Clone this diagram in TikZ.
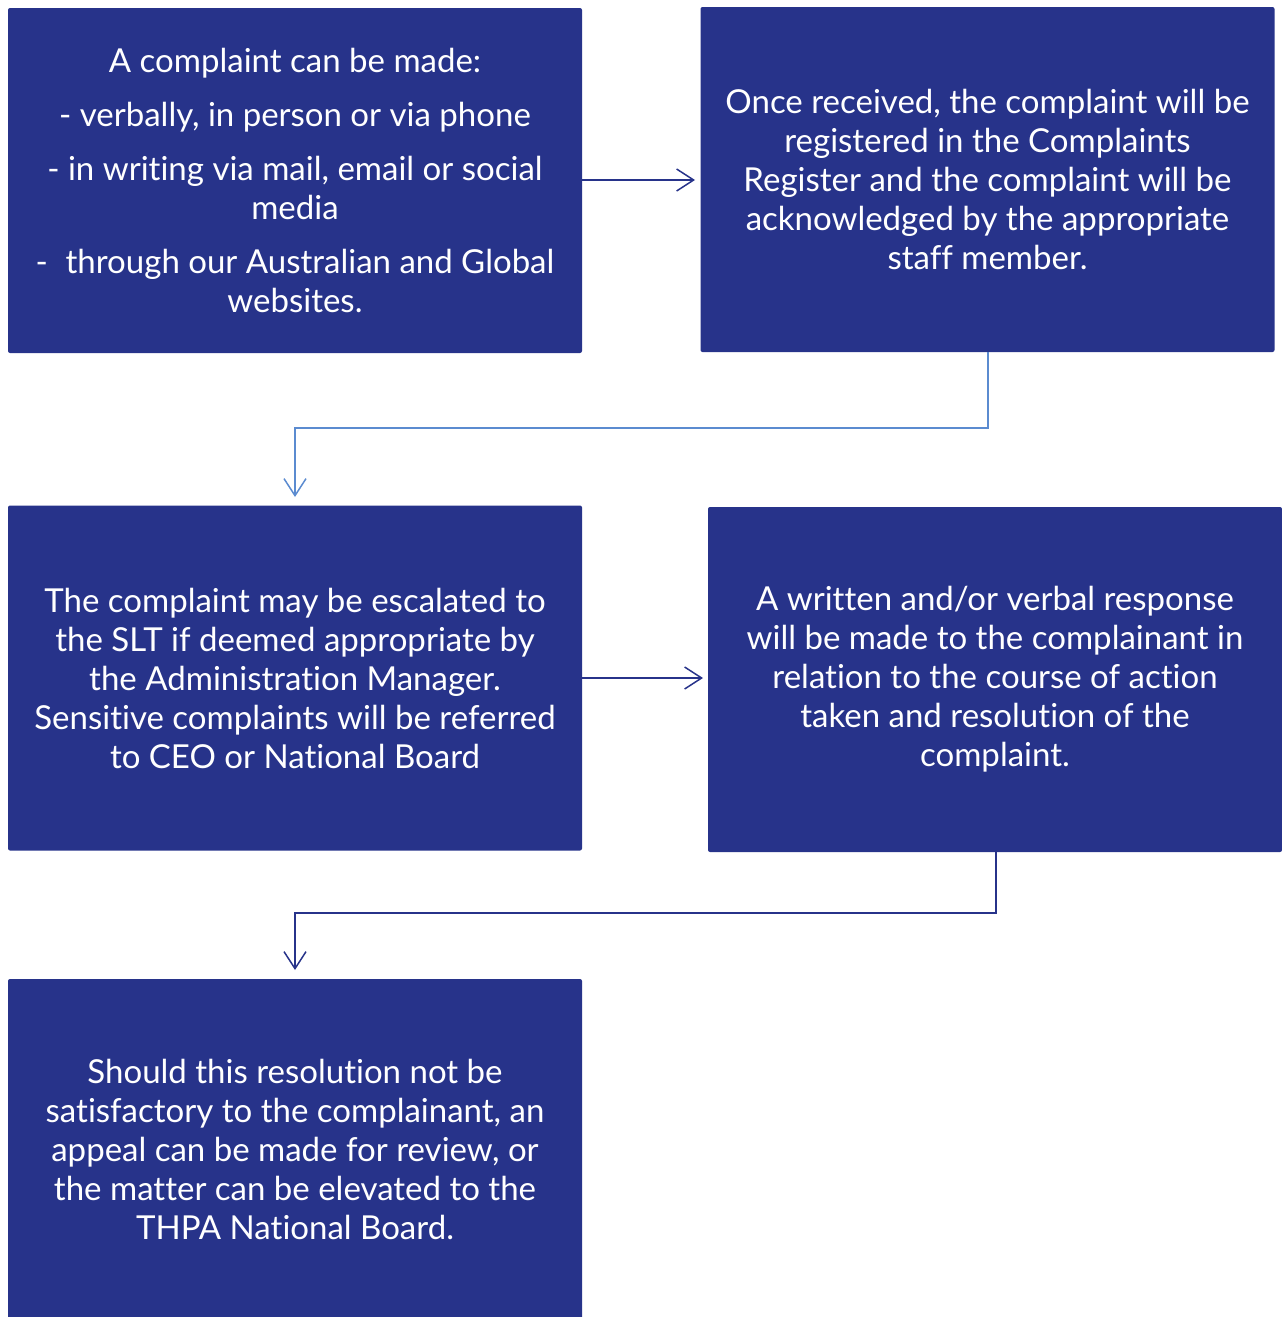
\documentclass[tikz,border=0pt]{standalone}
\usepackage{fontspec}
\setmainfont{Lato}[Ligatures=NoCommon]
\usetikzlibrary{arrows.meta}
\definecolor{boxblue}{HTML}{27338A}
\definecolor{lightline}{HTML}{5B8BD0}
\begin{document}
\begin{tikzpicture}[x=1pt,y=-1pt,
  box/.style={fill=boxblue,draw=none,rounded corners=2pt,minimum width=574pt,minimum height=345pt,inner sep=0pt,text=white,align=center,font=\fontsize{33}{39}\selectfont},
  conn/.style={line width=1.5pt,-{Straight Barb[length=17pt,width=22pt,line width=1.5pt]}},
]
\useasboundingbox (0,0) rectangle (1282,1317);
\node[box] (b1) at (295,180.5) {A complaint can be made:\\[15pt]- verbally, in person or via phone\\[15pt]- in writing via mail, email or social\\media\\[15pt]-\; through our Australian and Global\\websites.};
\node[box] (b2) at (987.5,179.5) {Once received, the complaint will be\\registered in the Complaints\\Register and the complaint will be\\acknowledged by the appropriate\\staff member.};
\node[box] (b3) at (295,678) {The complaint may be escalated to\\the SLT if deemed appropriate by\\the Administration Manager.\\Sensitive complaints will be referred\\to CEO or National Board};
\node[box] (b4) at (995,679.5) {A written and/or verbal response\\will be made to the complainant in\\relation to the course of action\\taken and resolution of the\\complaint.};
\node[box,minimum height=340pt] (b5) at (295,1149) {Should this resolution not be\\satisfactory to the complainant, an\\appeal can be made for review, or\\the matter can be elevated to the\\THPA National Board.};
\coordinate (a1e) at (695,180);
\coordinate (a3e) at (703,678);
\coordinate (c2a) at (988,428);
\coordinate (c2b) at (295,428);
\coordinate (c2e) at (295,497);
\coordinate (c4a) at (996,913);
\coordinate (c4b) at (295,913);
\coordinate (c4e) at (295,970);
\draw[conn,boxblue] (b1.east |- a1e) -- (a1e);
\draw[conn,lightline] (b2.south -| c2a) -- (c2a) -- (c2b) -- (c2e);
\draw[conn,boxblue] (b3.east |- a3e) -- (a3e);
\draw[conn,boxblue] (b4.south -| c4a) -- (c4a) -- (c4b) -- (c4e);
\end{tikzpicture}
\end{document}
